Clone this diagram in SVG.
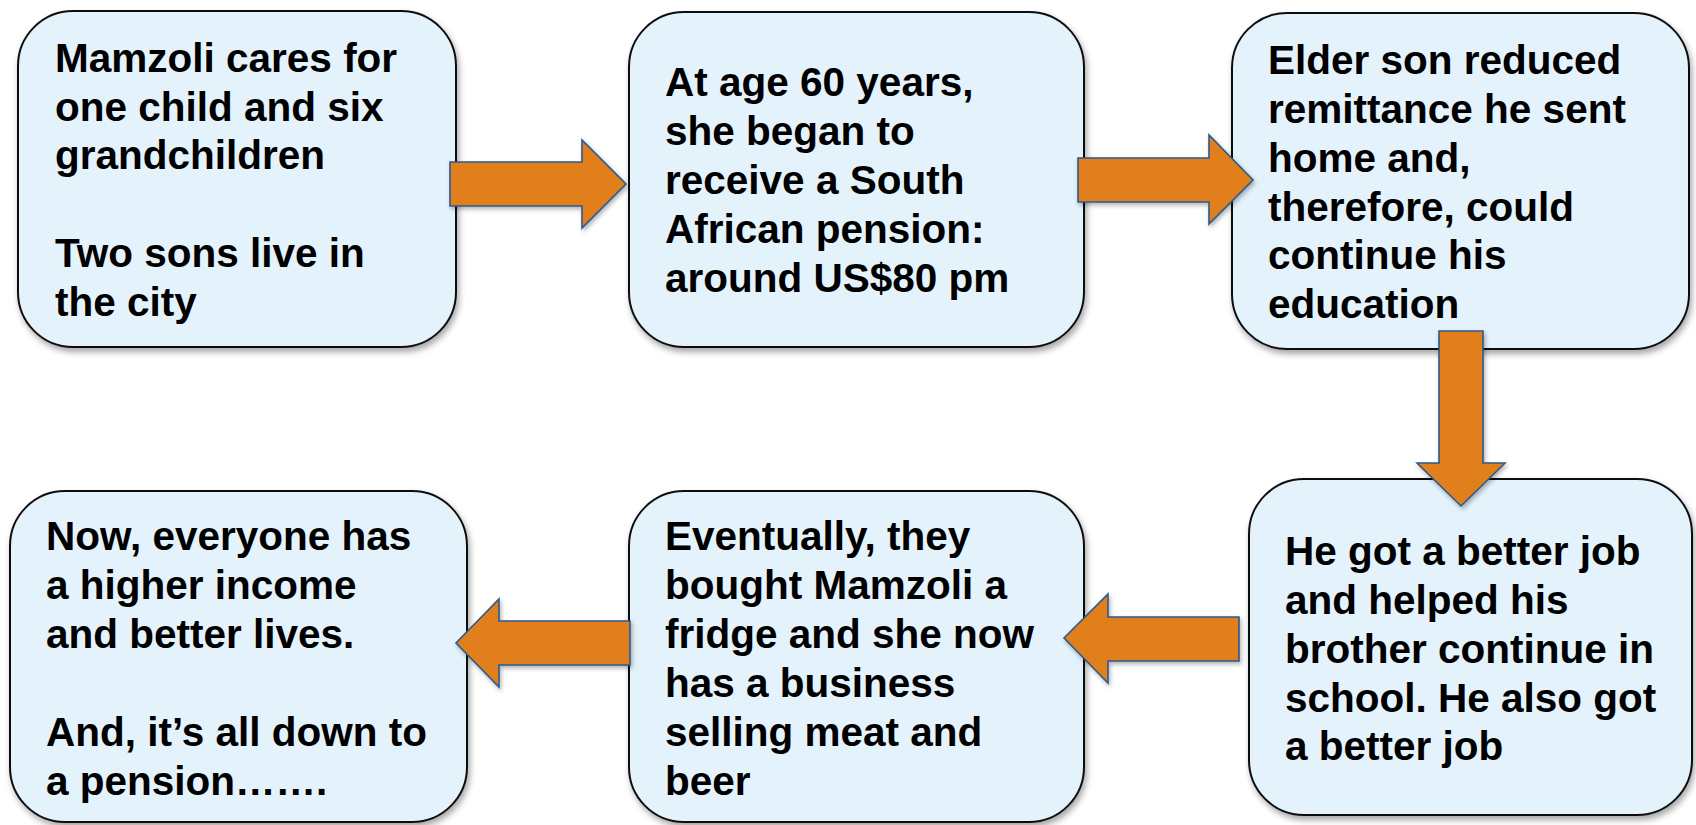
<svg xmlns="http://www.w3.org/2000/svg" width="1696" height="825" viewBox="0 0 1696 825">
<defs>
<filter id="sh" x="-10%" y="-10%" width="125%" height="125%">
<feDropShadow dx="2" dy="4" stdDeviation="3" flood-color="#000" flood-opacity="0.35"/>
</filter>
<filter id="ash" x="-10%" y="-10%" width="125%" height="125%">
<feDropShadow dx="1.5" dy="2.5" stdDeviation="2" flood-color="#000" flood-opacity="0.3"/>
</filter>
<style>
.box{fill:#E4F2FC;stroke:#111;stroke-width:2;filter:url(#sh)}
.t{font-family:"Liberation Sans",Arial,sans-serif;font-weight:bold;font-size:40.5px;fill:#000}
.arr{fill:#E07F1F;stroke:#2B5A8C;stroke-width:1.6;stroke-linejoin:miter;filter:url(#ash)}
</style>
</defs>
<rect width="1696" height="825" fill="#fff"/>
<g id="node1">
<rect class="box" x="18" y="11" width="438" height="336" rx="55" ry="55"/>
<text class="t"><tspan x="55" y="72">Mamzoli cares for</tspan><tspan x="55" y="121">one child and six</tspan><tspan x="55" y="169">grandchildren</tspan><tspan x="55" y="267">Two sons live in</tspan><tspan x="55" y="316">the city</tspan></text>
</g>
<g id="node2">
<rect class="box" x="629" y="12" width="455" height="335" rx="55" ry="55"/>
<text class="t"><tspan x="665" y="96">At age 60 years,</tspan><tspan x="665" y="145">she began to</tspan><tspan x="665" y="194">receive a South</tspan><tspan x="665" y="243">African pension:</tspan><tspan x="665" y="292">around US$80 pm</tspan></text>
</g>
<g id="node3">
<rect class="box" x="1232" y="13" width="457" height="336" rx="55" ry="55"/>
<text class="t"><tspan x="1268" y="74">Elder son reduced</tspan><tspan x="1268" y="123">remittance he sent</tspan><tspan x="1268" y="172">home and,</tspan><tspan x="1268" y="221">therefore, could</tspan><tspan x="1268" y="269">continue his</tspan><tspan x="1268" y="318">education</tspan></text>
</g>
<g id="node4">
<rect class="box" x="10" y="491" width="457" height="331" rx="55" ry="55"/>
<text class="t"><tspan x="46" y="550">Now, everyone has</tspan><tspan x="46" y="599">a higher income</tspan><tspan x="46" y="648">and better lives.</tspan><tspan x="46" y="746">And, it’s all down to</tspan><tspan x="46" y="795">a pension…….</tspan></text>
</g>
<g id="node5">
<rect class="box" x="629" y="491" width="455" height="331" rx="55" ry="55"/>
<text class="t"><tspan x="665" y="550">Eventually, they</tspan><tspan x="665" y="599">bought Mamzoli a</tspan><tspan x="665" y="648">fridge and she now</tspan><tspan x="665" y="697">has a business</tspan><tspan x="665" y="746">selling meat and</tspan><tspan x="665" y="795">beer</tspan></text>
</g>
<g id="node6">
<rect class="box" x="1249" y="479" width="443" height="336" rx="55" ry="55"/>
<text class="t"><tspan x="1285" y="565">He got a better job</tspan><tspan x="1285" y="614">and helped his</tspan><tspan x="1285" y="663">brother continue in</tspan><tspan x="1285" y="712">school. He also got</tspan><tspan x="1285" y="760">a better job</tspan></text>
</g>
<g id="connectors">
<polygon class="arr" points="450,162 582,162 582,140 626,184 582,228 582,206 450,206"/>
<polygon class="arr" points="1078,158 1209,158 1209,135 1253,180 1209,224 1209,202 1078,202"/>
<polygon class="arr" points="1439,331 1483,331 1483,463 1505,463 1461,506 1417,463 1439,463"/>
<polygon class="arr" points="1239,617 1108,617 1108,594 1064,638 1108,683 1108,661 1239,661"/>
<polygon class="arr" points="630,621 499,621 499,599 456,643 499,687 499,665 630,665"/>
</g>
</svg>
